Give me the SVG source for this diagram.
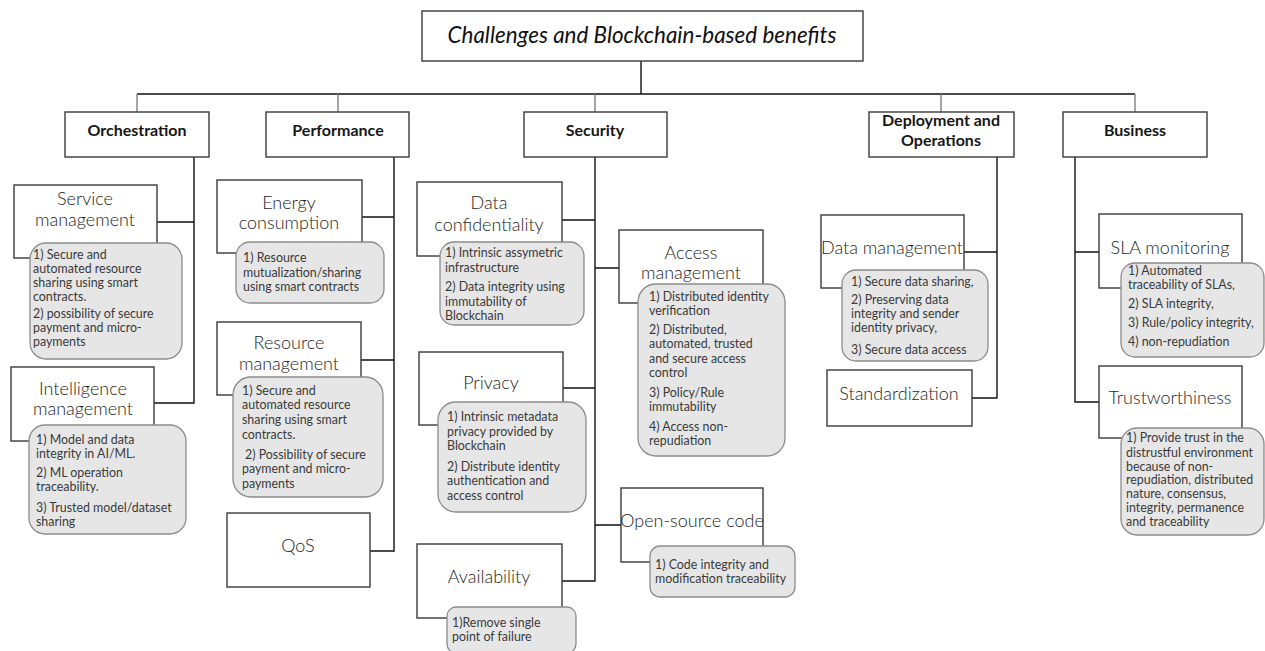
<svg xmlns="http://www.w3.org/2000/svg" width="1265" height="651" viewBox="0 0 1265 651">
<style>
.bg{fill:#fff}
.box{fill:#fff;stroke:#3a3a3a;stroke-width:1.4}
.cat{fill:#fff;stroke:#3a3a3a;stroke-width:1.4}
.call{fill:#e6e6e6;stroke:#8c8c8c;stroke-width:1.3}
.ln{fill:none;stroke:#111;stroke-width:1.4}
.lg{fill:none;stroke:#808080;stroke-width:1.4}
.t{font-family:Lato,"Open Sans",sans-serif;font-size:18px;font-weight:300;fill:#1e1e1e;text-anchor:middle}
.c{font-family:Lato,"Open Sans",sans-serif;font-size:12.4px;fill:#3a3a3a}
.h{font-family:Lato,"Open Sans",sans-serif;font-size:16px;font-weight:700;fill:#161616;text-anchor:middle}
.title{font-family:Lato,"Open Sans",sans-serif;font-size:24px;font-style:italic;fill:#111;text-anchor:middle}
</style>
<rect class="bg" x="0" y="0" width="1265" height="651"/>

<g id="connectors">
  <path class="ln" d="M641 61V94M137 94H1135"/>
  <path class="lg" d="M137 94V112M338 94V112M595 94V112M941 94V112M1135 94V112"/>
  <path class="ln" d="M194 157V403H154M157 222H194"/>
  <path class="ln" d="M394 157V551H370M362 217H394M361 360H394"/>
  <path class="ln" d="M595 157V581H562M562 220H595M595 268H619M563 388H595M595 525H621"/>
  <path class="ln" d="M997 157V398H972M964 252H997"/>
  <path class="ln" d="M1075 157V402H1099M1075 252H1099"/>
</g>

<g id="title">
  <rect class="cat" x="422" y="11" width="441" height="50"/>
  <text class="title" x="642" y="43" textLength="389" lengthAdjust="spacingAndGlyphs">Challenges and Blockchain-based benefits</text>
</g>

<g id="orchestration">
  <rect class="cat" x="65" y="112" width="144" height="45"/>
  <text class="h" x="137" y="136">Orchestration</text>
</g>
<g id="performance">
  <rect class="cat" x="266" y="112" width="143" height="45"/>
  <text class="h" x="338" y="136">Performance</text>
</g>
<g id="security">
  <rect class="cat" x="524" y="112" width="143" height="45"/>
  <text class="h" x="595" y="136">Security</text>
</g>
<g id="deployment">
  <rect class="cat" x="869" y="112" width="145" height="45"/>
  <text class="h" x="941" y="126">Deployment and</text>
  <text class="h" x="941" y="146">Operations</text>
</g>
<g id="business">
  <rect class="cat" x="1063" y="112" width="144" height="45"/>
  <text class="h" x="1135" y="136">Business</text>
</g>

<g id="service-management">
  <rect class="box" x="14" y="185" width="143" height="73"/>
  <text class="t" x="85" y="205">Service</text>
  <text class="t" x="85" y="226">management</text>
  <rect class="call" x="30" y="243" width="152" height="116" rx="16"/>
  <text class="c"><tspan x="33" y="259">1) Secure and</tspan><tspan x="33" y="273">automated resource</tspan><tspan x="33" y="287">sharing using smart</tspan><tspan x="33" y="301">contracts.</tspan><tspan x="33" y="318">2) possibility of secure</tspan><tspan x="33" y="332">payment and micro-</tspan><tspan x="33" y="346">payments</tspan></text>
</g>

<g id="intelligence-management">
  <rect class="box" x="11" y="367" width="143" height="74"/>
  <text class="t" x="83" y="395">Intelligence</text>
  <text class="t" x="83" y="415">management</text>
  <rect class="call" x="29" y="425" width="157" height="109" rx="16"/>
  <text class="c"><tspan x="36" y="444">1) Model and data</tspan><tspan x="36" y="458">integrity in AI/ML.</tspan><tspan x="36" y="477">2) ML operation</tspan><tspan x="36" y="491">traceability.</tspan><tspan x="36" y="512">3) Trusted model/dataset</tspan><tspan x="36" y="526">sharing</tspan></text>
</g>

<g id="energy-consumption">
  <rect class="box" x="217" y="180" width="145" height="73"/>
  <text class="t" x="289" y="209">Energy</text>
  <text class="t" x="289" y="229">consumption</text>
  <rect class="call" x="236" y="242" width="148" height="61" rx="14"/>
  <text class="c"><tspan x="243" y="262">1) Resource</tspan><tspan x="243" y="277">mutualization/sharing</tspan><tspan x="243" y="291">using smart contracts</tspan></text>
</g>

<g id="resource-management">
  <rect class="box" x="217" y="322" width="144" height="73"/>
  <text class="t" x="289" y="349">Resource</text>
  <text class="t" x="289" y="370">management</text>
  <rect class="call" x="233" y="377" width="150" height="120" rx="18"/>
  <text class="c"><tspan x="242" y="395">1) Secure and</tspan><tspan x="242" y="409">automated resource</tspan><tspan x="242" y="424">sharing using smart</tspan><tspan x="242" y="439">contracts.</tspan><tspan x="245" y="459">2) Possibility of secure</tspan><tspan x="242" y="473">payment and micro-</tspan><tspan x="242" y="488">payments</tspan></text>
</g>

<g id="qos">
  <rect class="box" x="227" y="513" width="143" height="74"/>
  <text class="t" x="298" y="552">QoS</text>
</g>

<g id="data-confidentiality">
  <rect class="box" x="417" y="182" width="145" height="74"/>
  <text class="t" x="489" y="209">Data</text>
  <text class="t" x="489" y="231">confidentiality</text>
  <rect class="call" x="440" y="242" width="144" height="83" rx="14"/>
  <text class="c"><tspan x="445" y="257">1) Intrinsic assymetric</tspan><tspan x="445" y="272">infrastructure</tspan><tspan x="445" y="291">2) Data integrity using</tspan><tspan x="445" y="306">immutability of</tspan><tspan x="445" y="320">Blockchain</tspan></text>
</g>

<g id="access-management">
  <rect class="box" x="619" y="230" width="144" height="73"/>
  <text class="t" x="691" y="259">Access</text>
  <text class="t" x="691" y="279">management</text>
  <rect class="call" x="638" y="284" width="147" height="172" rx="18"/>
  <text class="c"><tspan x="649" y="301">1) Distributed identity</tspan><tspan x="649" y="315">verification</tspan><tspan x="649" y="334">2) Distributed,</tspan><tspan x="649" y="348">automated, trusted</tspan><tspan x="649" y="363">and secure access</tspan><tspan x="649" y="377">control</tspan><tspan x="649" y="397">3) Policy/Rule</tspan><tspan x="649" y="411">immutability</tspan><tspan x="649" y="431">4) Access non-</tspan><tspan x="649" y="445">repudiation</tspan></text>
</g>

<g id="privacy">
  <rect class="box" x="419" y="352" width="144" height="73"/>
  <text class="t" x="491" y="389">Privacy</text>
  <rect class="call" x="438" y="402" width="148" height="110" rx="18"/>
  <text class="c"><tspan x="447" y="421">1) Intrinsic metadata</tspan><tspan x="447" y="436">privacy provided by</tspan><tspan x="447" y="450">Blockchain</tspan><tspan x="447" y="471">2) Distribute identity</tspan><tspan x="447" y="485">authentication and</tspan><tspan x="447" y="500">access control</tspan></text>
</g>

<g id="open-source-code">
  <rect class="box" x="621" y="488" width="142" height="74"/>
  <text class="t" x="692" y="527">Open-source code</text>
  <rect class="call" x="650" y="546" width="145" height="51" rx="10"/>
  <text class="c"><tspan x="655" y="569">1) Code integrity and</tspan><tspan x="655" y="583">modification traceability</tspan></text>
</g>

<g id="availability">
  <rect class="box" x="417" y="544" width="145" height="74"/>
  <text class="t" x="489" y="583">Availability</text>
  <rect class="call" x="447" y="607" width="129" height="46" rx="9"/>
  <text class="c"><tspan x="452" y="627">1)Remove single</tspan><tspan x="452" y="641">point of failure</tspan></text>
</g>

<g id="data-management">
  <rect class="box" x="821" y="215" width="143" height="73"/>
  <text class="t" x="892" y="254">Data management</text>
  <rect class="call" x="842" y="270" width="146" height="91" rx="14"/>
  <text class="c"><tspan x="851" y="286">1) Secure data sharing,</tspan><tspan x="851" y="304">2) Preserving data</tspan><tspan x="851" y="318">integrity and sender</tspan><tspan x="851" y="332">identity privacy,</tspan><tspan x="851" y="354">3) Secure data access</tspan></text>
</g>

<g id="standardization">
  <rect class="box" x="827" y="370" width="145" height="56"/>
  <text class="t" x="899" y="400">Standardization</text>
</g>

<g id="sla-monitoring">
  <rect class="box" x="1099" y="214" width="143" height="74"/>
  <text class="t" x="1170" y="254">SLA monitoring</text>
  <rect class="call" x="1121" y="263" width="143" height="94" rx="14"/>
  <text class="c"><tspan x="1128" y="275">1) Automated</tspan><tspan x="1128" y="289">traceability of SLAs,</tspan><tspan x="1128" y="308">2) SLA integrity,</tspan><tspan x="1128" y="327">3) Rule/policy integrity,</tspan><tspan x="1128" y="346">4) non-repudiation</tspan></text>
</g>

<g id="trustworthiness">
  <rect class="box" x="1099" y="366" width="143" height="72"/>
  <text class="t" x="1170" y="404">Trustworthiness</text>
  <rect class="call" x="1121" y="428" width="143" height="107" rx="16"/>
  <text class="c"><tspan x="1126" y="442">1) Provide trust in the</tspan><tspan x="1126" y="457">distrustful environment</tspan><tspan x="1126" y="471">because of non-</tspan><tspan x="1126" y="484">repudiation, distributed</tspan><tspan x="1126" y="498">nature, consensus,</tspan><tspan x="1126" y="512">integrity, permanence</tspan><tspan x="1126" y="526">and traceability</tspan></text>
</g>
</svg>
